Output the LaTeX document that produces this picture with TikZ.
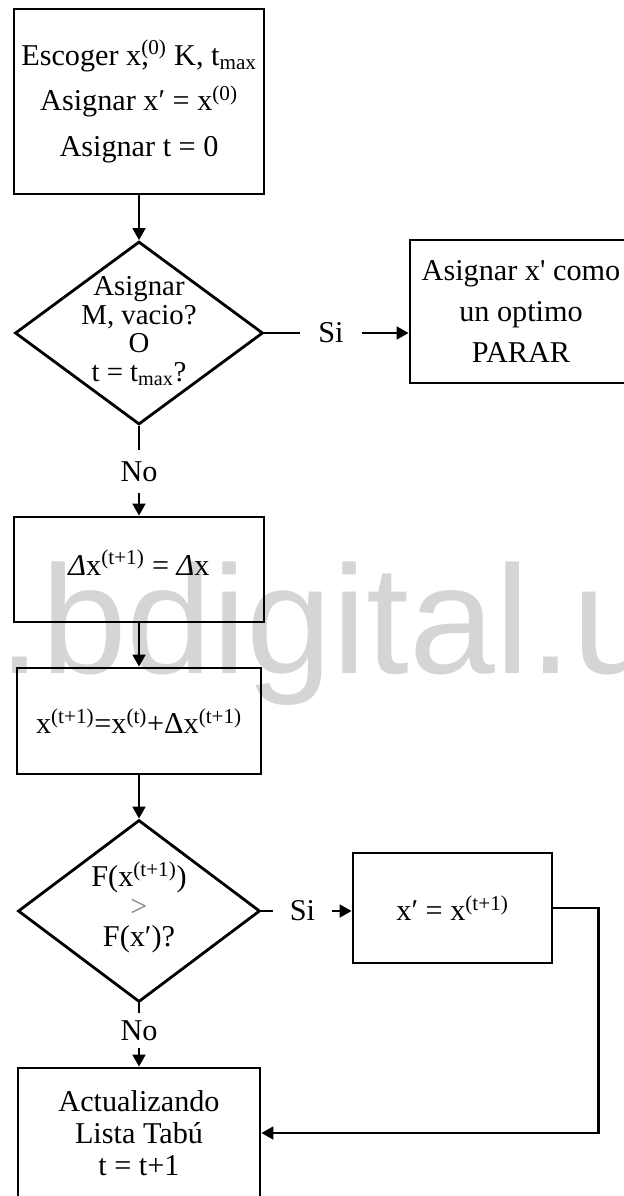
\documentclass[tikz,border=0pt]{standalone}
\usepackage{fontspec}
\setmainfont{Liberation Serif}
\newfontfamily\markfont{Liberation Sans}
\usetikzlibrary{shapes.geometric, arrows.meta, positioning}
\definecolor{markgray}{RGB}{213, 213, 213}
\definecolor{signgray}{RGB}{130, 130, 130}

\begin{document}
\begin{tikzpicture}[
    box/.style={rectangle, draw=black, line width=2pt, inner sep=0pt, align=center},
    dia/.style={diamond, draw=black, line width=2pt, inner sep=0pt},
    txt/.style={inner sep=0pt, align=center},
    lbl/.style={inner sep=0pt, font=\fontsize{21.5}{26}\selectfont},
    flow/.style={line width=1.7pt},
    arr/.style={flow, -{Triangle[length=3mm, width=3.2mm]}},
]
    \useasboundingbox (0,0) rectangle (15.6,-29.9);

    % Watermark (behind everything)
    \node[anchor=base west, inner sep=0pt, text=markgray, font=\markfont\fontsize{109.6}{110}\selectfont]
        (mark) at (-0.05,-16.825) {.bdigital.u};

    % Start box
    \node[box, minimum width=6.25cm, minimum height=4.625cm, font=\fontsize{21.5}{32.6}\selectfont]
        (init) at (3.475,-2.5375)
        {Escoger x\rlap{,}\textsuperscript{(0)} K, t\textsubscript{max}\\
         Asignar x′ = x\textsuperscript{(0)}\\
         Asignar t = 0};

    % First decision
    \node[dia, minimum width=6.2cm, minimum height=4.575cm] (dec1) at (3.475,-8.325) {};
    \node[txt, font=\fontsize{20.5}{20.3}\selectfont] (dec1txt) at (3.475,-8.28)
        {Asignar\\ M, vacio?\\ O\\ t = t\textsubscript{max}?};

    \node[lbl, minimum width=1.55cm] (si1) at (8.275,-8.325) {Si};
    \node[box, minimum width=5.55cm, minimum height=3.575cm, font=\fontsize{21.5}{29}\selectfont]
        (stop) at (13.025,-7.7875)
        {Asignar x\textquotesingle{} como\\ un optimo\\ PARAR};

    \node[lbl, minimum height=1.075cm] (no1) at (3.475,-11.7875) {No};

    % Step boxes
    \node[box, minimum width=6.25cm, minimum height=2.625cm, text depth=0.35cm, font=\fontsize{21.5}{26}\selectfont]
        (delta) at (3.475,-14.2375) {\textit{Δ}x\textsuperscript{(t+1)} = \textit{Δ}x};
    \node[box, minimum width=6.1cm, minimum height=2.65cm, font=\fontsize{21.5}{26}\selectfont]
        (upd) at (3.475,-18.025) {x\textsuperscript{(t+1)}=x\textsuperscript{(t)}+Δx\textsuperscript{(t+1)}};

    % Second decision
    \node[dia, minimum width=6.05cm, minimum height=4.55cm] (dec2) at (3.475,-22.775) {};
    \node[txt, font=\fontsize{21.5}{21.3}\selectfont] (dec2txt) at (3.475,-22.68)
        {F(x\textsuperscript{(t+1)})\\ {\color{signgray}>}\\ F(x′)?};

    \node[lbl, minimum width=1.475cm] (si2) at (7.5625,-22.775) {Si};
    \node[box, minimum width=4.975cm, minimum height=2.75cm, font=\fontsize{21.5}{26}\selectfont]
        (best) at (11.3125,-22.7) {x′ = x\textsuperscript{(t+1)}};

    \node[lbl, minimum height=0.875cm] (no2) at (3.475,-25.7625) {No};
    \node[box, minimum width=6.05cm, minimum height=3.25cm, font=\fontsize{21.5}{22.7}\selectfont]
        (tabu) at (3.475,-28.325) {Actualizando\\ Lista Tabú\\ t = t+1};

    % Connectors
    \draw[arr] (init.south) -- (dec1.north);
    \draw[flow] (dec1.east) -- (si1.west);
    \draw[arr] (si1.east) -- (si1.east -| stop.west);
    \draw[flow] (dec1.south) -- (no1.north);
    \draw[arr] (no1.south) -- (delta.north);
    \draw[arr] (delta.south) -- (upd.north);
    \draw[arr] (upd.south) -- (dec2.north);
    \draw[flow] (dec2.east) -- (si2.west);
    \draw[arr] (si2.east) -- (si2.east -| best.west);
    \draw[flow] (dec2.south) -- (no2.north);
    \draw[arr] (no2.south) -- (tabu.north);
    \draw[arr] (best.east) -- ++(1.125,0) |- (tabu.east);
\end{tikzpicture}
\end{document}
